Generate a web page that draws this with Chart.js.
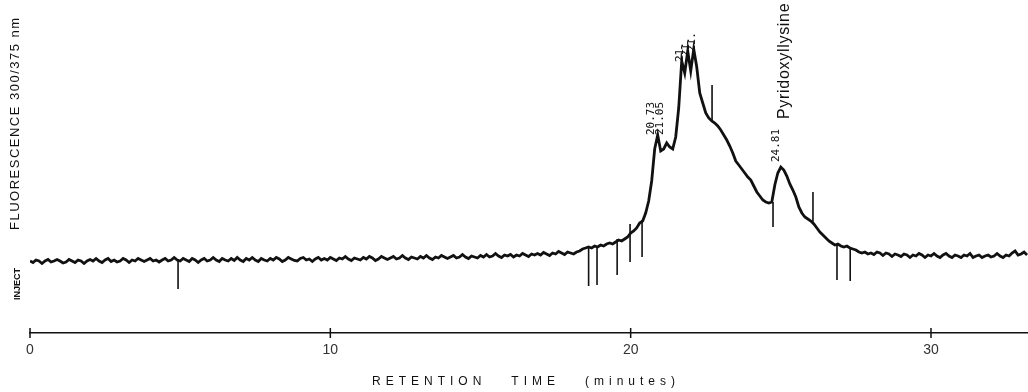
<!DOCTYPE html>
<html>
<head>
<meta charset="utf-8">
<script src="https://cdn.jsdelivr.net/npm/chart.js@4.4.1/dist/chart.umd.min.js"></script>
<style>
    html, body { margin: 0; padding: 0; background: #fff; }
    canvas { display: block; }
</style>
</head>
<body>
<canvas id="chrom" width="1028" height="392"></canvas>
<script>
/* 1. recorder trace, one sample every 0.1 min (detector units above the time axis) */
const sampleStep = 0.1;
const signal = [
    72, 70.5, 73, 72, 69.5, 72, 73.5, 71, 72, 73.5,
    72, 70, 71, 73.5, 72, 70.5, 73, 72, 69.5, 72,
    73.5, 72, 74.5, 72, 70.5, 73, 74.5, 71.5, 73, 71,
    72, 74.5, 73, 70.5, 73, 72, 74.5, 73, 71.5, 73,
    74.5, 72, 73, 71, 73, 74.5, 72, 73, 75.5, 73,
    72, 74.5, 73, 71.5, 74.5, 73, 70.5, 73, 74.5, 72,
    73, 75.5, 73, 71.5, 74.5, 73, 72, 74.5, 72.5, 75.5,
    73, 71.5, 74.5, 73, 75.5, 73, 71.5, 74.5, 73, 72,
    74.5, 73, 75.5, 74, 71.5, 73, 75.5, 74, 72.5, 72,
    74.5, 75.5, 73, 74, 71.5, 74, 75.5, 73, 74.5, 73,
    75.5, 74, 72.5, 75, 74, 76.5, 74, 72.5, 75, 74,
    73, 75.5, 74, 76.5, 75, 72.5, 74, 76.5, 75, 73.5,
    75, 76.5, 74, 75, 77.5, 75, 73.5, 76, 75, 74,
    76.5, 75, 77.5, 75, 73.5, 76, 75, 77.5, 76, 74.5,
    76, 77.5, 75, 76, 78.5, 76, 74.5, 77, 76, 75,
    77.5, 76, 78.5, 76, 77, 79.5, 77, 75.5, 78, 77,
    78.5, 76, 78, 77, 79.5, 78, 76.5, 79, 78, 79.5,
    78, 80.5, 79, 77.5, 80, 79, 81.5, 80, 78.5, 81,
    80, 79, 81, 82, 84, 85, 86, 85, 87, 86,
    88, 87, 89, 90, 89, 91, 93, 92, 94, 96,
    100, 102, 105, 110, 112, 120, 132, 152, 184, 198,
    182, 184, 190, 186, 184, 196, 225, 272, 260, 282,
    262, 284, 266, 240, 230, 220, 215, 212, 210, 207,
    203, 198, 193, 187, 180, 172, 168, 164, 160, 156,
    153, 147, 141, 137, 133, 131, 130, 131, 148, 160,
    166, 163, 157, 149, 143, 136, 126, 120, 116, 114,
    112, 109, 105, 101, 98, 95, 92, 90, 88, 89,
    87, 86, 87, 85, 84, 83, 81, 80, 81, 79,
    80, 78.5, 81, 80, 77.5, 80, 79, 76.5, 79, 78,
    76.5, 79, 78, 75.5, 78, 77, 79.5, 78, 75.5, 78,
    77, 79.5, 77, 75.5, 78, 79.5, 77, 75.5, 78, 77,
    75.5, 78, 77, 79.5, 75.5, 77, 78, 75.5, 77, 78,
    76, 77, 79.5, 77, 75.5, 78, 77, 80, 82, 78,
    79, 81, 78
];

// integrator event marks (vertical strokes)
const spikeTimes = [4.93, 18.6, 18.88, 19.55, 19.98, 20.38, 22.71, 24.74, 26.07, 26.87, 27.31];
const spikeFrom  = [74, 86, 87, 94, 109, 113, 211, 131, 111, 88, 86];
const spikeTo    = [44, 47, 48, 58, 71, 76, 248, 106, 141, 53, 52];

// retention time labels printed at the peaks
const peakLabels       = ['20.73', '21.05', '21.', '21.', '21.', '24.81'];
const peakLabelTimes   = [20.68, 20.98, 21.64, 21.84, 22.04, 24.84];
const peakLabelHeights = [198, 198, 271, 276, 281, 171];
const compoundName = 'Pyridoxyllysine';
const compoundTime = 25.12;
const compoundHeight = 214;

const xTickValues = [0, 10, 20, 30];
const xMax = 33.23;
const yMax = 333;
const ink = '#111';

/* 2. chart data */
const tracePoints = signal.map((v, i) => ({ x: +(i * sampleStep).toFixed(2), y: v }));
const spikePoints = [];
spikeTimes.forEach((t, i) => {
    spikePoints.push({ x: t, y: spikeFrom[i] }, { x: t, y: spikeTo[i] }, { x: t, y: null });
});

function vText(ctx, txt, px, py, spacing) {
    ctx.save();
    ctx.translate(px, py);
    ctx.rotate(-Math.PI / 2);
    ctx.textAlign = 'left';
    ctx.textBaseline = 'middle';
    ctx.letterSpacing = (spacing || 0) + 'px';
    ctx.fillText(txt, 0, 0);
    ctx.restore();
}

/* 3. labels and axis decorations */
const annotate = {
    id: 'annotate',
    afterDraw(chart) {
        const { ctx, chartArea, scales: { x, y } } = chart;
        ctx.save();
        ctx.fillStyle = ink;
        ctx.strokeStyle = ink;

        // tick marks crossing the time axis
        ctx.lineWidth = 1.5;
        xTickValues.forEach(v => {
            const px = x.getPixelForValue(v);
            ctx.beginPath();
            ctx.moveTo(px, chartArea.bottom - 5);
            ctx.lineTo(px, chartArea.bottom + 5);
            ctx.stroke();
        });

        // peak retention times
        ctx.font = '11px "DejaVu Sans Mono"';
        peakLabels.forEach((txt, i) => {
            vText(ctx, txt, x.getPixelForValue(peakLabelTimes[i]), y.getPixelForValue(peakLabelHeights[i]));
        });
        ctx.font = '16px "Liberation Sans"';
        vText(ctx, compoundName, x.getPixelForValue(compoundTime), y.getPixelForValue(compoundHeight), 0.7);

        // detector title and inject marker
        ctx.font = '13px "Liberation Sans"';
        vText(ctx, 'FLUORESCENCE 300/375 nm', 15, 230, 1.5);
        ctx.font = 'bold 9px "Liberation Sans"';
        vText(ctx, 'INJECT', 18, 300);

        // time axis title
        ctx.font = '12px "Liberation Sans"';
        ctx.textAlign = 'center';
        ctx.textBaseline = 'middle';
        ctx.letterSpacing = '5px';
        ctx.fillText('RETENTION   TIME   (minutes)', (chartArea.left + chartArea.right) / 2 - 3, 382);
        ctx.restore();
    }
};

new Chart(document.getElementById('chrom'), {
    type: 'line',
    data: {
        datasets: [
            {
                data: tracePoints,
                borderColor: ink,
                borderWidth: 2.8,
                pointRadius: 0,
                tension: 0
            },
            {
                data: spikePoints,
                borderColor: ink,
                borderWidth: 1.6,
                pointRadius: 0,
                spanGaps: false
            }
        ]
    },
    options: {
        responsive: false,
        animation: false,
        layout: { padding: { left: 30, right: 0, top: 0, bottom: 0 } },
        plugins: {
            legend: { display: false },
            tooltip: { enabled: false }
        },
        scales: {
            x: {
                type: 'linear',
                min: 0,
                max: xMax,
                afterBuildTicks: axis => { axis.ticks = xTickValues.map(v => ({ value: v })); },
                afterFit: axis => { axis.height = 59; },
                ticks: {
                    color: '#333',
                    font: { size: 14, family: 'Liberation Sans' },
                    padding: 9,
                    maxRotation: 0
                },
                grid: { display: false, drawTicks: false },
                border: { display: true, color: ink, width: 1.6 }
            },
            y: {
                display: false,
                min: 0,
                max: yMax
            }
        }
    },
    plugins: [annotate]
});
</script>
</body>
</html>
